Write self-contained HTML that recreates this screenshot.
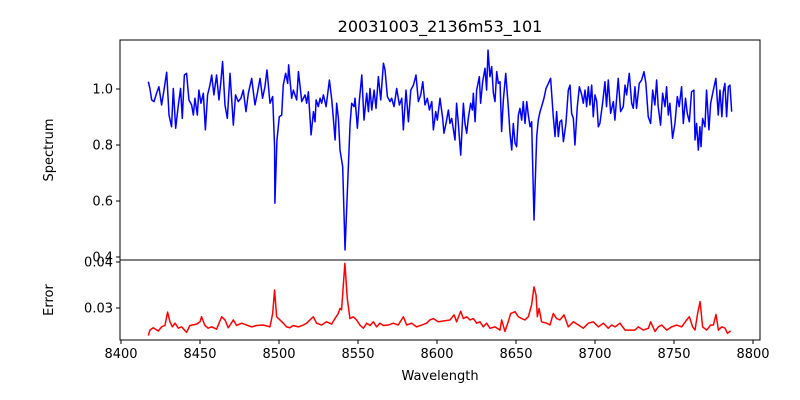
<!DOCTYPE html>
<html><head><meta charset="utf-8"><style>
body{margin:0;background:#fff;}
svg{display:block;font-family:"DejaVu Sans","Liberation Sans",sans-serif;}
</style></head><body>
<svg id="chart" width="800" height="400" viewBox="0 0 800 400"></svg>
<script>
const specWave=[8417.3,8418.3,8419.4,8420.9,8422.5,8424.0,8425.7,8427.2,8428.9,8430.4,8432.0,8433.1,8434.6,8436.3,8437.7,8438.8,8440.1,8441.5,8443.0,8444.7,8445.8,8446.8,8448.3,8449.3,8450.6,8452.1,8453.4,8454.8,8456.3,8457.4,8458.8,8460.5,8462.0,8463.1,8464.3,8465.8,8467.3,8469.0,8471.1,8472.5,8474.2,8475.9,8477.4,8479.1,8480.6,8482.7,8484.8,8486.3,8488.0,8489.6,8491.1,8492.4,8494.3,8496.0,8497.2,8497.4,8498.7,8500.2,8501.7,8502.7,8504.2,8505.5,8506.1,8508.0,
8509.1,8511.2,8512.3,8514.4,8516.5,8517.5,8518.6,8520.3,8521.8,8522.8,8523.5,8524.9,8526.0,8527.0,8528.1,8529.8,8531.9,8533.4,8534.4,8535.5,8536.5,8537.6,8538.6,8540.3,8541.8,8543.3,8545.0,8546.0,8547.5,8548.1,8549.6,8550.9,8552.4,8553.8,8555.5,8556.6,8557.6,8558.7,8560.2,8561.4,8562.9,8564.4,8566.1,8567.1,8568.6,8570.3,8571.3,8572.8,8574.5,8576.2,8577.7,8578.7,8580.4,8581.9,8583.4,8585.1,8586.7,8588.2,8589.7,8591.0,8592.4,8593.9,8595.2,8596.7,8597.7,8599.2,8600.2,
8601.9,8603.6,8604.4,8605.7,8607.2,8608.2,8609.3,8611.4,8612.4,8613.5,8615.0,8616.7,8617.7,8618.8,8619.8,8621.3,8622.4,8623.0,8624.1,8625.1,8626.8,8627.6,8628.9,8630.4,8631.4,8632.3,8633.5,8634.6,8635.7,8636.7,8637.8,8638.8,8639.9,8640.9,8642.0,8643.5,8645.1,8646.2,8647.3,8648.3,8649.4,8650.4,8651.5,8652.5,8653.6,8654.6,8655.7,8656.8,8657.8,8658.9,8659.9,8661.4,8663.1,8664.1,8665.2,8666.2,8667.7,8669.0,8670.5,8671.9,8673.6,8674.7,8675.7,8676.8,8677.8,8678.9,8680.0,8681.6,8683.1,8684.2,8685.2,8686.3,8687.3,8688.8,8690.1,8691.6,8692.6,8693.7,8694.7,8695.8,8696.8,8697.9,8698.9,8700.0,8701.1,8702.1,
8703.1,8704.8,8706.3,8707.3,8708.4,8709.9,8711.6,8712.6,8713.7,8714.7,8716.2,8717.9,8719.0,8720.0,8721.7,8723.2,8724.2,8725.3,8726.3,8728.0,8729.5,8731.0,8732.2,8733.7,8735.2,8736.5,8737.9,8739.0,8740.0,8741.5,8742.8,8744.3,8745.3,8746.4,8747.4,8749.1,8750.6,8752.1,8753.3,8754.8,8755.9,8757.3,8758.4,8759.7,8761.1,8762.6,8763.3,8764.3,8765.4,8766.4,8767.1,8768.1,8769.6,8770.6,8772.1,8773.2,8774.9,8776.5,8778.0,8779.1,8780.3,8781.2,8782.2,8783.3,8784.4,8785.4,8786.5];
const specFlux=[1.026,1.002,0.961,0.955,0.985,1.008,0.943,0.996,1.060,0.907,0.865,1.002,0.860,0.943,1.002,0.895,1.050,1.056,0.961,0.943,0.907,0.967,0.907,0.996,0.949,0.985,0.854,0.979,1.014,1.050,0.979,1.050,0.961,1.020,1.098,0.943,0.895,1.056,0.871,0.979,0.955,0.967,0.996,0.919,0.985,1.038,0.943,0.985,1.038,0.967,1.008,1.068,0.949,0.973,0.794,0.592,0.818,0.901,0.907,1.014,1.056,1.020,1.086,0.967,
0.996,0.961,1.062,0.955,0.979,0.949,0.990,0.836,0.919,0.883,0.961,0.937,0.967,0.949,0.979,0.937,1.032,0.961,0.895,0.818,0.949,0.895,0.782,0.723,0.425,0.639,0.877,0.949,0.937,0.967,0.860,0.961,1.050,0.889,0.985,0.919,1.002,0.925,0.996,0.931,1.044,0.961,1.092,1.068,0.973,0.955,0.967,0.937,1.002,0.943,0.967,0.854,0.996,0.883,0.996,1.014,1.050,0.955,0.979,1.026,0.943,0.967,0.925,0.955,0.854,0.919,0.889,
0.967,0.895,0.842,0.877,0.925,0.877,0.895,0.818,0.949,0.877,0.764,0.949,0.877,0.842,0.895,0.949,0.925,0.985,0.883,0.996,1.044,0.949,1.026,1.074,0.996,1.139,1.044,1.080,0.985,0.955,1.062,1.020,1.026,0.848,0.961,1.056,0.937,0.842,0.782,0.877,0.806,0.794,0.907,0.931,0.889,0.955,0.877,0.955,0.907,0.865,0.883,0.532,0.830,0.889,0.919,0.937,0.967,1.002,1.020,1.038,0.901,0.830,0.919,0.830,0.883,0.889,0.812,0.877,0.996,1.014,0.913,0.895,0.800,0.937,1.008,0.979,0.949,0.996,0.937,1.008,0.943,1.014,0.901,0.979,0.955,0.865,
0.877,0.949,1.026,0.937,1.032,0.913,0.955,0.889,0.967,1.038,0.919,0.937,1.014,0.979,1.056,0.949,0.931,1.008,0.931,1.020,1.032,1.062,1.020,0.901,0.877,0.996,0.943,1.032,0.937,0.871,0.985,0.937,1.008,0.907,0.949,0.824,0.877,0.973,0.937,1.008,0.877,0.967,0.913,0.883,0.990,0.996,0.818,0.877,0.782,0.865,0.794,0.895,0.865,0.996,0.854,0.949,0.996,1.038,0.907,0.996,0.901,0.990,1.020,0.901,1.008,1.014,0.919];
const errWave=[8417.3,8418.3,8420.4,8423.6,8425.7,8427.8,8429.5,8431.0,8432.5,8434.2,8436.3,8438.4,8441.5,8443.6,8447.9,8450.0,8451.0,8453.1,8455.2,8457.4,8460.5,8463.7,8465.8,8467.9,8471.1,8473.2,8476.3,8479.5,8482.7,8485.8,8490.1,8494.3,8496.0,8497.2,8498.5,8500.6,8502.7,8504.8,8506.9,8509.0,8512.2,8515.4,8517.5,8519.6,8521.7,8523.8,8527.0,8530.1,8533.3,8535.4,8537.5,8538.6,8539.6,8541.7,8543.2,8544.9,8547.0,8549.1,8551.2,8553.4,8555.5,8557.6,8559.7,8561.8,8563.9,8566.0,8569.2,8572.3,8575.5,8578.7,8580.8,8583.9,8587.1,8590.3,8593.4,8595.5,8597.7,8600.8,
8608.2,8610.8,8612.4,8615.0,8616.7,8618.8,8620.9,8623.0,8625.1,8627.2,8629.3,8631.4,8633.5,8636.7,8639.9,8640.9,8643.0,8645.1,8646.6,8649.4,8651.5,8653.6,8655.7,8657.8,8659.9,8661.4,8662.7,8663.5,8664.6,8666.2,8669.4,8671.5,8673.6,8675.7,8677.8,8680.4,8683.1,8686.3,8689.5,8692.6,8695.8,8698.9,8702.1,8705.3,8708.4,8710.5,8712.7,8715.8,8719.0,8722.2,8725.3,8727.4,8730.6,8733.8,8735.2,8738.0,8740.1,8742.2,8745.4,8748.5,8751.7,8754.9,8758.0,8759.7,8761.8,8763.3,8764.8,8766.5,8768.1,8770.7,8773.2,8774.9,8776.6,8778.1,8780.2,8782.3,8783.8,8785.4,8785.9];
const errVal=[.0240,.0252,.0257,.0250,.0259,.0262,.0291,.0270,.0259,.0267,.0256,.0259,.0247,.0262,.0265,.0270,.0281,.0262,.0256,.0259,.0254,.0281,.0274,.0257,.0274,.0262,.0267,.0263,.0259,.0262,.0263,.0259,.0288,.0339,.0281,.0274,.0267,.0259,.0257,.0262,.0259,.0263,.0267,.0274,.0281,.0267,.0263,.0270,.0265,.0277,.0288,.0299,.0296,.0397,.0321,.0277,.0281,.0274,.0263,.0256,.0267,.0262,.0270,.0259,.0267,.0262,.0263,.0267,.0263,.0281,.0263,.0267,.0259,.0263,.0267,.0274,.0277,.0270,
.0274,.0285,.0270,.0293,.0277,.0281,.0274,.0277,.0267,.0270,.0259,.0267,.0256,.0259,.0252,.0274,.0249,.0270,.0288,.0292,.0281,.0277,.0274,.0281,.0307,.0346,.0328,.0281,.0299,.0270,.0267,.0263,.0288,.0277,.0274,.0285,.0259,.0270,.0263,.0256,.0267,.0270,.0259,.0267,.0256,.0263,.0259,.0267,.0252,.0252,.0252,.0259,.0252,.0256,.0270,.0249,.0259,.0263,.0252,.0259,.0263,.0259,.0274,.0281,.0259,.0252,.0285,.0314,.0259,.0252,.0263,.0263,.0286,.0252,.0259,.0256,.0245,.0249,.0250];
const xTicks=[8400,8450,8500,8550,8600,8650,8700,8750,8800];
const specTicks=[0.4,0.6,0.8,1.0];
const errTicks=[0.03,0.04];

const NS="http://www.w3.org/2000/svg";
const svg=document.getElementById('chart');
const L=120,R=760,T1=40,B1=260,T2=260,B2=340;
const xS=w=>121+(w-8400)*1.58;
const yS=v=>89+(1-v)*280;
const yE=v=>308-(v-0.03)*4600;
function mk(tag,attrs,txt){const e=document.createElementNS(NS,tag);for(const k in attrs)e.setAttribute(k,attrs[k]);if(txt!==undefined)e.textContent=txt;svg.appendChild(e);return e;}
function path(xs,ys,fx,fy){return xs.map((x,i)=>(i?'L':'M')+fx(x).toFixed(2)+','+fy(ys[i]).toFixed(2)).join('');}

let e;
e=mk('path',{d:path(specWave,specFlux,xS,yS),fill:'none',stroke:'#0000ff','stroke-width':1.5,'stroke-linejoin':'round'});


e=mk('path',{d:path(errWave,errVal,xS,yE),fill:'none',stroke:'#ff0000','stroke-width':1.5,'stroke-linejoin':'round'});


e=mk('rect',{x:L,y:T1,width:R-L,height:B1-T1,fill:'none',stroke:'#000','stroke-width':1});


e=mk('rect',{x:L,y:T2,width:R-L,height:B2-T2,fill:'none',stroke:'#000','stroke-width':1});


specTicks.forEach(t=>{const y=yS(t);
 e=mk('line',{x1:L-4,x2:L,y1:y,y2:y,stroke:'#000'});
 
 
 e=mk('text',{x:L-7,y:y+4.5,'text-anchor':'end','font-size':13},t.toFixed(1));
 
 });
errTicks.forEach(t=>{const y=yE(t);
 e=mk('line',{x1:L-4,x2:L,y1:y,y2:y,stroke:'#000'});
 
 
 e=mk('text',{x:L-7,y:y+4.5,'text-anchor':'end','font-size':13},t.toFixed(2));
 
 });
xTicks.forEach(t=>{const x=xS(t);
 e=mk('line',{x1:x,x2:x,y1:B2,y2:B2+4,stroke:'#000'});
 
 
 e=mk('text',{x:x,y:B2+18,'text-anchor':'middle','font-size':13},String(t));
 
 });
e=mk('text',{x:440,y:32,'text-anchor':'middle','font-size':16},'20031003_2136m53_101');


e=mk('text',{x:440,y:380,'text-anchor':'middle','font-size':13},'Wavelength');


e=mk('text',{x:53,y:150,'text-anchor':'middle','font-size':13,transform:'rotate(-90 53 150)'},'Spectrum');


e=mk('text',{x:53,y:300,'text-anchor':'middle','font-size':13,transform:'rotate(-90 53 300)'},'Error');


</script>
</body></html>
